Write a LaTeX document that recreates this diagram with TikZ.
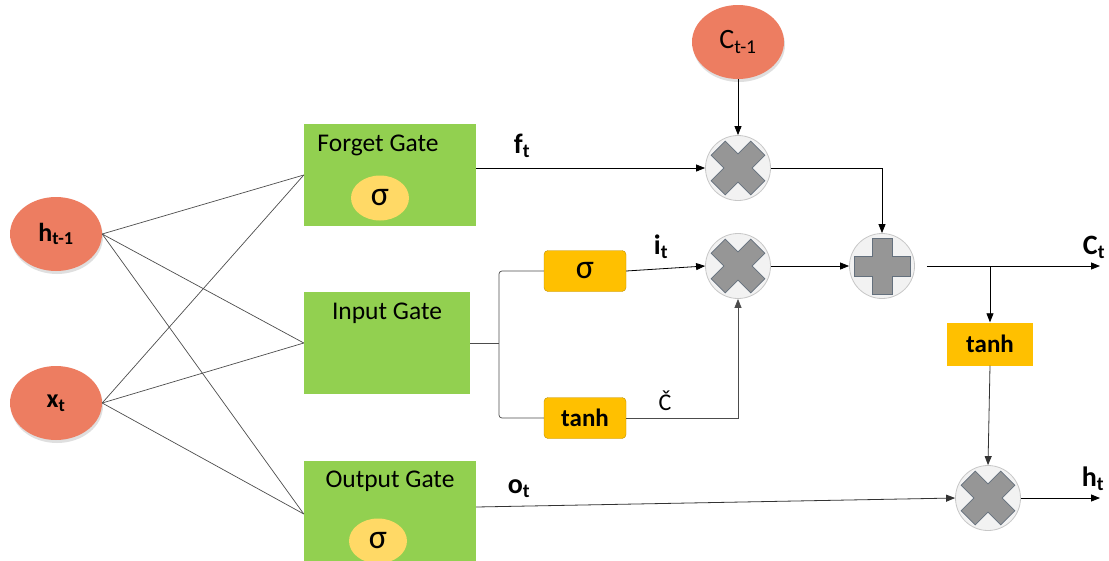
\documentclass[tikz,border=0pt]{standalone}
\usepackage{fontspec}
\setmainfont{Carlito}
\usetikzlibrary{arrows.meta,positioning,shapes.geometric,shadows,calc}
\definecolor{lstmorange}{RGB}{237,125,97}
\definecolor{lstmgreen}{RGB}{146,208,80}
\definecolor{lstmyellow}{RGB}{255,217,102}
\definecolor{lstmamber}{RGB}{255,192,0}
\definecolor{lstmamberdk}{RGB}{191,144,0}
\definecolor{opgray}{RGB}{150,150,150}
\definecolor{opedge}{RGB}{100,112,125}

\begin{document}
\begin{tikzpicture}[
  x=1pt,y=-1pt,
  state/.style={ellipse,fill=lstmorange,minimum width=92pt,minimum height=74pt,inner sep=0pt,
                drop shadow={opacity=0.25,shadow xshift=1pt,shadow yshift=-3pt},
                font=\fontsize{26}{28}\selectfont},
  gate/.style={fill=lstmgreen,minimum width=172pt,minimum height=102pt,inner sep=0pt},
  gname/.style={font=\fontsize{25.5}{28}\selectfont,inner sep=0pt},
  sig/.style={ellipse,fill=lstmyellow,minimum width=58pt,minimum height=45pt,inner sep=0pt,
              font=\fontsize{34}{36}\selectfont},
  act/.style={fill=lstmamber,draw=lstmamberdk,rounded corners=4pt,minimum width=82pt,
              minimum height=41pt,inner sep=0pt,font=\fontsize{25}{28}\selectfont\bfseries},
  op/.style={circle,fill=black!5,draw=black!22,line width=0.8pt,minimum size=65pt,inner sep=0pt},
  lbl/.style={font=\fontsize{28}{30}\selectfont\bfseries,inner sep=0pt},
  wire/.style={black!70,line width=0.7pt},
  arr/.style={-{Triangle[length=9pt,width=7pt]},black,line width=0.8pt},
  crossmark/.pic={\filldraw[fill=opgray,draw=opedge,line width=0.6pt]
    (10,28)--(10,10)--(28,10)--(28,-10)--(10,-10)--(10,-28)--(-10,-28)--(-10,-10)
    --(-28,-10)--(-28,10)--(-10,10)--(-10,28)--cycle;}
]
  \useasboundingbox (0,0) rectangle (1109,560);

  % inputs
  \node[state] (hprev) at (56,234) {\textbf{h}\textsubscript{\textbf{t-1}}};
  \node[state] (xin)   at (56,403) {\textbf{x}\textsubscript{\textbf{t}}};
  \node[state,font=\fontsize{28}{30}\selectfont] (cprev) at (738,42) {C\textsubscript{t-1}};

  % gates
  \node[gate] (fgate) at (390,175) {};
  \node[gate,minimum width=166pt] (igate) at (387,343) {};
  \node[gate,minimum height=106pt] (ogate) at (390,514) {};
  \node[gname] (fname) at (378,145) {Forget Gate};
  \node[gname] (iname) at (387,313) {Input Gate};
  \node[gname] (oname) at (390,481) {Output Gate};
  \node[sig] (fsig) at (380,198) {σ};
  \node[sig] (osig) at (378,541) {σ};

  % activations
  \node[act] (isig)  at (585,271) {\mdseries\fontsize{34}{36}\selectfont σ};
  \node[act] (itanh) at (585,418) {tanh};
  \node[act,minimum width=86pt,minimum height=43pt,rounded corners=0pt,draw=none] (otanh) at (990,344) {tanh};

  % pointwise operations
  \node[op] (mulf) at (738,168) {};
  \node[op] (muli) at (738,266) {};
  \node[op] (addc) at (882,266) {};
  \node[op] (mulo) at (988,498) {};
  \pic[rotate=45] at (mulf) {crossmark};
  \pic[rotate=45] at (muli) {crossmark};
  \pic at (addc) {crossmark};
  \pic[rotate=45] at (mulo) {crossmark};

  \coordinate (split) at (499,343);
  \coordinate (branch) at (990,266);
  \coordinate (cout) at (1100,266);
  \coordinate (hout) at (1100,498);

  % input fan
  \foreach \s in {hprev,xin}
    \foreach \g in {fgate,igate,ogate}
      \draw[wire] (\s.east) -- (\g.west);

  % connectors
  \draw[wire] (igate.east) -- (split);
  \draw[wire,rounded corners=3pt] (isig.west) -| (split) |- (itanh.west);
  \draw[arr] (fgate.east |- mulf) -- (mulf.west);
  \draw[arr] (cprev) -- (mulf.north);
  \draw[arr] (mulf.east) -| (addc.north);
  \draw[arr] (isig.east) -- (muli.west);
  \draw[arr,black!70] (itanh.east) -| (muli.south);
  \draw[arr] (muli.east) -- (addc.west);
  \draw[arr] ([xshift=12pt]addc.east) -- (cout);
  \draw[arr] (branch) -- (otanh.north);
  \draw[arr,black!80] (otanh.south) -- (mulo.north);
  \draw[arr,black!80] ([yshift=7pt]ogate.east) -- (mulo.west);
  \draw[arr] (mulo.east) -- (hout);

  % labels
  \node[lbl] (flbl) at (522,146) {f\textsubscript{t}};
  \node[lbl] (ilbl) at (661,247) {i\textsubscript{t}};
  \node[lbl,font=\fontsize{24}{28}\selectfont] (clbl) at (665,401) {Č};
  \node[lbl] (olbl) at (519,489) {o\textsubscript{t}};
  \node[lbl] (ctlbl) at (1094,247) {C\textsubscript{t}};
  \node[lbl] (htlbl) at (1093,479) {h\textsubscript{t}};
\end{tikzpicture}
\end{document}
